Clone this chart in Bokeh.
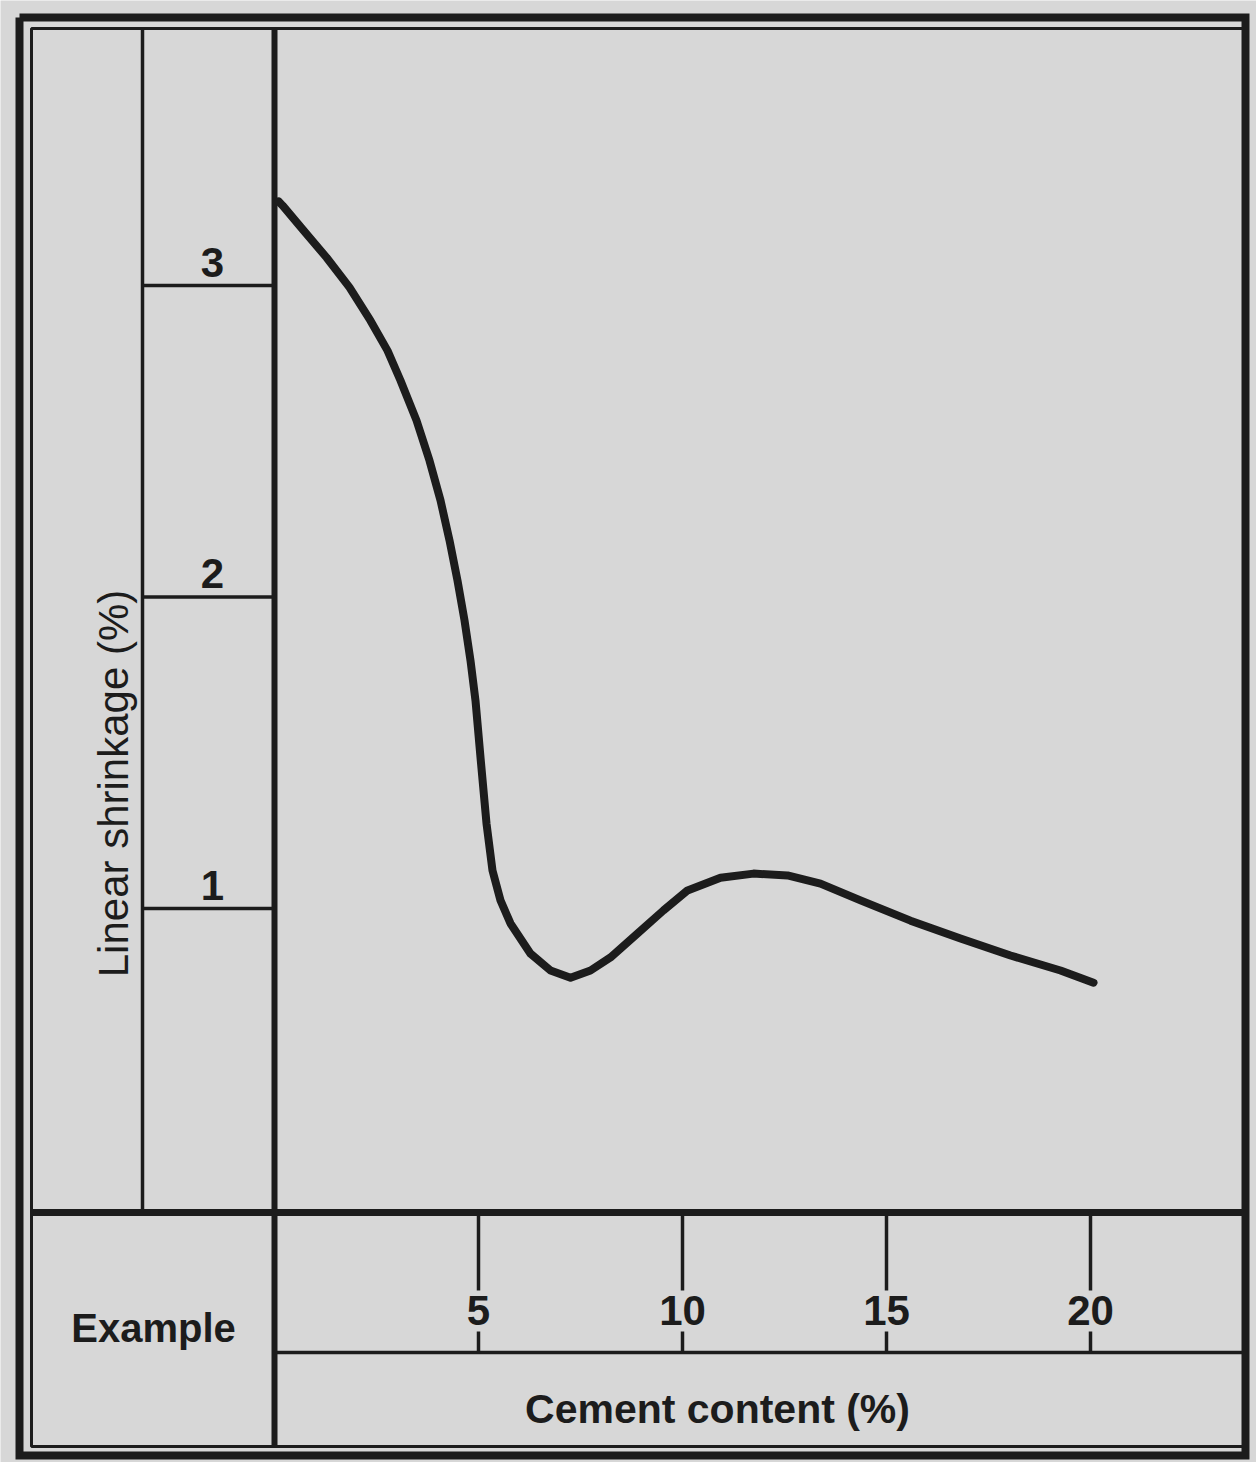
import numpy as np
from bokeh.plotting import figure
from bokeh.models import Range1d
from bokeh.core.properties import value
from bokeh.embed import file_html
from bokeh.resources import INLINE

# ---- data ----
cement = [0.10, 0.196, 0.711, 1.275, 1.838, 2.353, 2.770, 3.088, 3.480, 3.799, 4.069,
          4.289, 4.485, 4.657, 4.804, 4.926, 5.049, 5.196, 5.343, 5.539, 5.784, 6.275,
          6.765, 7.255, 7.745, 8.235, 8.897, 9.534, 10.123, 10.931, 11.740, 12.574,
          13.382, 14.363, 15.588, 16.814, 18.039, 19.265, 20.074]
shrinkage = [3.270, 3.257, 3.177, 3.090, 2.994, 2.887, 2.791, 2.695, 2.567, 2.438, 2.310,
             2.182, 2.053, 1.925, 1.796, 1.668, 1.485, 1.273, 1.122, 1.026, 0.952, 0.855,
             0.801, 0.778, 0.801, 0.843, 0.920, 0.994, 1.058, 1.099, 1.112, 1.106,
             1.080, 1.026, 0.961, 0.904, 0.849, 0.801, 0.762]
x_ticks = [5, 10, 15, 20]
x_tick_labels = ["5", "10", "15", "20"]
y_ticks = [1, 2, 3]
y_tick_labels = ["1", "2", "3"]
x_title = "Cement content (%)"
y_title = "Linear shrinkage (%)"
corner_label = "Example"

INK = "#1c1c1c"
BG = "#d7d7d7"
FONT = value("Liberation Sans")

W, H = 1256, 1462
# picture pixel -> data helpers for the decorative frame
def X(px):
    return (px - 274.0) / 40.8

def Y(py):
    return (1219.5 - py) / 311.5

p = figure(width=W, height=H, output_backend="svg", toolbar_location=None,
           x_range=Range1d(X(0), X(W)), y_range=Range1d(Y(H), Y(0)),
           x_axis_location=None, y_axis_location=None, min_border=0)
p.grid.visible = False
p.outline_line_color = None
p.background_fill_color = BG
p.border_fill_color = BG

# outer thick frame
p.multi_line(xs=[[X(19), X(1245), X(1245), X(19), X(19)]],
             ys=[[Y(17), Y(17), Y(1455), Y(1455), Y(17)]],
             line_color=INK, line_width=8, line_join="miter")
# inner thin frame (left, top, bottom)
p.multi_line(xs=[[X(1242), X(31), X(31), X(1242)]],
             ys=[[Y(28), Y(28), Y(1446), Y(1446)]],
             line_color=INK, line_width=3)
# tick column line
p.segment(x0=[X(142)], y0=[Y(28)], x1=[X(142)], y1=[Y(1212)], line_color=INK, line_width=3.5)
# y axis line
p.segment(x0=[0], y0=[Y(28)], x1=[0], y1=[Y(1446)], line_color=INK, line_width=6)
# x axis line
p.segment(x0=[X(31)], y0=[Y(1212)], x1=[X(1242)], y1=[Y(1212)], line_color=INK, line_width=7)
# lower box line
p.segment(x0=[0], y0=[Y(1352)], x1=[X(1242)], y1=[Y(1352)], line_color=INK, line_width=3.5)

# y ticks: horizontal lines in the tick column, labels above
p.segment(x0=[X(142)] * len(y_ticks), y0=y_ticks, x1=[0] * len(y_ticks), y1=y_ticks,
          line_color=INK, line_width=3.5)
p.text(x=[X(212)] * len(y_ticks), y=y_ticks, text=y_tick_labels, y_offset=-9,
       text_font=FONT, text_font_style="bold", text_font_size="42px",
       text_align="center", text_baseline="bottom", text_color=INK)

# x ticks: vertical lines between axis and lower box line, broken by label
n = len(x_ticks)
p.segment(x0=x_ticks, y0=[Y(1212)] * n, x1=x_ticks, y1=[Y(1290)] * n, line_color=INK, line_width=3.5)
p.segment(x0=x_ticks, y0=[Y(1331)] * n, x1=x_ticks, y1=[Y(1352)] * n, line_color=INK, line_width=3.5)
p.text(x=x_ticks, y=[Y(1310)] * n, text=x_tick_labels,
       text_font=FONT, text_font_style="bold", text_font_size="42px",
       text_align="center", text_baseline="middle", text_color=INK)

# titles
p.text(x=[X(717)], y=[Y(1408)], text=[x_title], text_font=FONT, text_font_style="bold",
       text_font_size="41px", text_align="center", text_baseline="middle", text_color=INK)
p.text(x=[X(113)], y=[Y(783)], text=[y_title], angle=np.pi / 2, text_font=FONT,
       text_font_style="normal", text_font_size="42px", text_align="center",
       text_baseline="middle", text_color=INK)
p.text(x=[X(153)], y=[Y(1327)], text=[corner_label], text_font=FONT, text_font_style="bold",
       text_font_size="40px", text_align="center", text_baseline="middle", text_color=INK)

# the curve
p.line(cement, shrinkage, line_color=INK, line_width=8, line_cap="round", line_join="round")

open("out.html", "w").write(file_html(p, INLINE))
